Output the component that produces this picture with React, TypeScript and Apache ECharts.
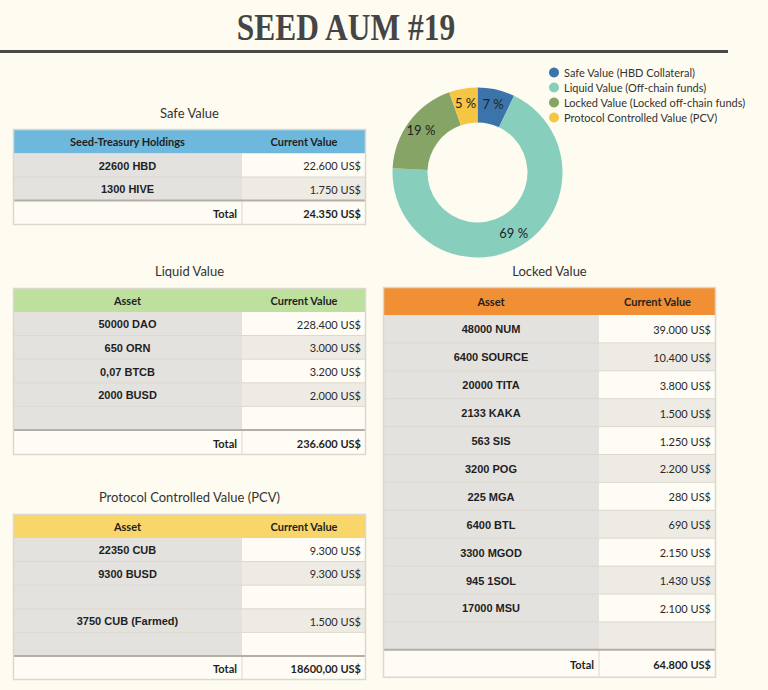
import React, { useEffect, useRef } from "react";
import * as echarts from "echarts";

const TITLE = "SEED AUM #19";

const pieNames = [
  "Safe Value (HBD Collateral)",
  "Liquid Value (Off-chain funds)",
  "Locked Value (Locked off-chain funds)",
  "Protocol Controlled Value (PCV)",
];
const pieValues = [24350, 236600, 64800, 18600];
const pieColors = ["#3b74ab", "#87cfbc", "#85a465", "#f6c543"];

const assetHeader = ["Asset", "Current Value"];
const safeHeader = ["Seed-Treasury Holdings", "Current Value"];

const safeAssets = ["22600 HBD", "1300 HIVE"];
const safeValues = ["22.600 US$", "1.750 US$"];
const safeTotal = "24.350 US$";

const liquidAssets = ["50000 DAO", "650 ORN", "0,07 BTCB", "2000 BUSD", ""];
const liquidValues = ["228.400 US$", "3.000 US$", "3.200 US$", "2.000 US$", ""];
const liquidTotal = "236.600 US$";

const pcvAssets = ["22350 CUB", "9300 BUSD", "", "3750 CUB (Farmed)", ""];
const pcvValues = ["9.300 US$", "9.300 US$", "", "1.500 US$", ""];
const pcvTotal = "18600,00 US$";

const lockedAssets = [
  "48000 NUM", "6400 SOURCE", "20000 TITA", "2133 KAKA", "563 SIS", "3200 POG",
  "225 MGA", "6400 BTL", "3300 MGOD", "945 1SOL", "17000 MSU", "",
];
const lockedValues = [
  "39.000 US$", "10.400 US$", "3.800 US$", "1.500 US$", "1.250 US$", "2.200 US$",
  "280 US$", "690 US$", "2.150 US$", "1.430 US$", "2.100 US$", "",
];
const lockedTotal = "64.800 US$";

const BG = "#fefcf0";
const SANS = "Lato";

function txt(text: string, x: number, y: number, font: string, align: string, fill = "#1f1f1f") {
  return {
    type: "text",
    silent: true,
    z: 10,
    style: { text, x, y, font, fill, align, verticalAlign: "middle", textAlign: align, textVerticalAlign: "middle" },
  };
}
function rect(x: number, y: number, w: number, h: number, fill: string, z = 1) {
  return { type: "rect", silent: true, z, shape: { x, y, width: w, height: h }, style: { fill } };
}
function hline(x1: number, x2: number, y: number, stroke: string, lw = 1, z = 5) {
  return { type: "line", silent: true, z, shape: { x1, y1: y, x2, y2: y }, style: { stroke, lineWidth: lw } };
}
function vline(x: number, y1: number, y2: number, stroke: string, lw = 1, z = 5) {
  return { type: "line", silent: true, z, shape: { x1: x, y1, x2: x, y2 }, style: { stroke, lineWidth: lw } };
}

function buildTable(opts: {
  title: string; titleY: number; x: number; y: number; wL: number; wR: number;
  headerH: number; rowH: number; totalH: number; header: string[]; headerColor: string;
  assets: string[]; values: string[]; total: string;
}) {
  const { title, titleY, x, y, wL, wR, headerH, rowH, totalH, header, headerColor, assets, values, total } = opts;
  const els: any[] = [];
  const W = wL + wR;
  const border = "#dcd8ce";
  els.push(txt(title, x + W / 2, titleY, `13px ${SANS}`, "center", "#333"));
  els.push(rect(x, y, W, headerH, headerColor));
  els.push(txt(header[0], x + wL / 2, y + headerH / 2, `bold 11px ${SANS}`, "center"));
  els.push(txt(header[1], x + wL + wR / 2, y + headerH / 2, `bold 11px ${SANS}`, "center"));
  let cy = y + headerH;
  for (let i = 0; i < assets.length; i++) {
    els.push(rect(x, cy, wL, rowH, "#e4e2de"));
    els.push(rect(x + wL, cy, wR, rowH, i % 2 === 0 ? "#fefcf4" : "#eeebe4"));
    if (i > 0) els.push(hline(x, x + W, cy, border));
    if (assets[i]) els.push(txt(assets[i], x + wL / 2, cy + rowH / 2 + 0.5, `bold 11px "Liberation Sans"`, "center"));
    if (values[i]) els.push(txt(values[i], x + W - 5, cy + rowH / 2 + 0.5, `11px ${SANS}`, "right", "#2a2a2a"));
    cy += rowH;
  }
  els.push(rect(x, cy, W, totalH, "#fefcf4"));
  els.push(vline(x + wL, cy, cy + totalH, border));
  els.push(txt("Total", x + wL - 5, cy + totalH / 2 + 0.5, `bold 11px ${SANS}`, "right"));
  els.push(txt(total, x + W - 5, cy + totalH / 2 + 0.5, `bold 11px ${SANS}`, "right"));
  els.push(hline(x, x + W, cy, "#b3afa6", 2, 6));
  // outer border
  els.push({
    type: "rect", silent: true, z: 7,
    shape: { x: x + 0.5, y: y + 0.5, width: W - 1, height: cy + totalH - y - 1 },
    style: { fill: "none", stroke: border, lineWidth: 1.5 },
  });
  return els;
}

export default function App() {
  const ref = useRef<HTMLDivElement>(null);
  useEffect(() => {
    if (!ref.current) return;
    const chart = echarts.init(ref.current, null, { renderer: "svg" });

    const graphics: any[] = [];
    graphics.push({
      type: "text", silent: true, x: 346, y: 27, scaleX: 0.85,
      style: {
        text: TITLE, x: 0, y: 0, font: 'bold 37px "Liberation Serif"', fill: "#454545",
        align: "center", verticalAlign: "middle", textAlign: "center", textVerticalAlign: "middle",
      },
    });
    graphics.push(hline(0, 728, 51.5, "#4a4a4a", 3));

    graphics.push(...buildTable({
      title: "Safe Value", titleY: 113, x: 13, y: 129, wL: 229, wR: 124,
      headerH: 24.5, rowH: 23.5, totalH: 24.5, header: safeHeader, headerColor: "#6eb8de",
      assets: safeAssets, values: safeValues, total: safeTotal,
    }));
    graphics.push(...buildTable({
      title: "Liquid Value", titleY: 271, x: 13, y: 288, wL: 229, wR: 124,
      headerH: 24, rowH: 23.6, totalH: 25, header: assetHeader, headerColor: "#bde09f",
      assets: liquidAssets, values: liquidValues, total: liquidTotal,
    }));
    graphics.push(...buildTable({
      title: "Protocol Controlled Value (PCV)", titleY: 497, x: 13, y: 514, wL: 229, wR: 124,
      headerH: 24, rowH: 23.6, totalH: 24, header: assetHeader, headerColor: "#f8d66a",
      assets: pcvAssets, values: pcvValues, total: pcvTotal,
    }));
    graphics.push(...buildTable({
      title: "Locked Value", titleY: 271, x: 383, y: 287, wL: 216, wR: 117,
      headerH: 28, rowH: 27.9, totalH: 28, header: assetHeader, headerColor: "#f08f34",
      assets: lockedAssets, values: lockedValues, total: lockedTotal,
    }));

    chart.setOption({
      animation: false,
      backgroundColor: BG,
      legend: {
        orient: "vertical",
        left: 549,
        top: 67,
        padding: 0,
        icon: "circle",
        itemWidth: 10,
        itemHeight: 10,
        itemGap: 4,
        textStyle: { fontFamily: SANS, fontSize: 11, color: "#333", lineHeight: 11 },
        data: pieNames,
      },
      series: [
        {
          type: "pie",
          center: [477.5, 172.5],
          radius: [50, 85],
          startAngle: 90,
          clockwise: true,
          percentPrecision: 0,
          avoidLabelOverlap: false,
          label: {
            show: true,
            position: "inside",
            formatter: "{d} %",
            fontFamily: SANS,
            fontSize: 13,
            color: "#222",
          },
          labelLine: { show: false },
          emphasis: { disabled: true },
          itemStyle: { borderWidth: 0 },
          data: pieNames.map((n, i) => ({ name: n, value: pieValues[i], itemStyle: { color: pieColors[i] } })),
        },
      ],
      graphic: graphics,
    });
    return () => chart.dispose();
  }, []);
  return (
    <div
      ref={ref}
      style={{ position: "fixed", left: 0, top: 0, width: 768, height: 690, background: BG }}
    />
  );
}
